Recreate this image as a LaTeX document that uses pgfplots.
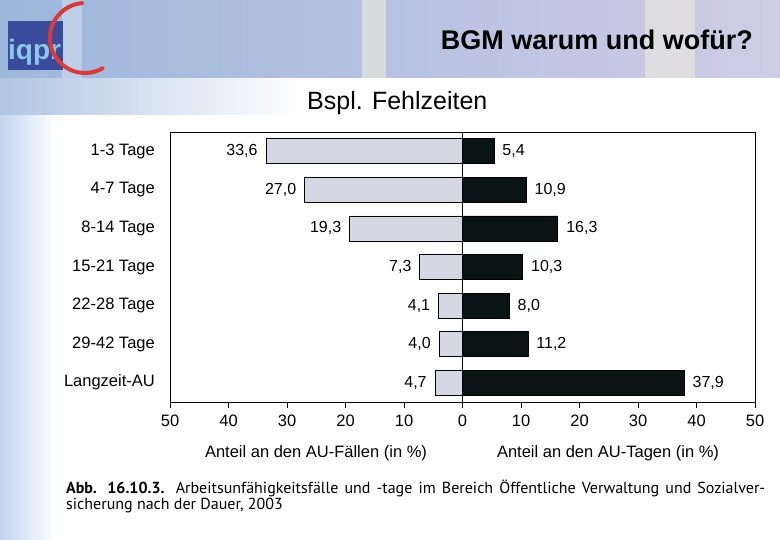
\documentclass[border=0pt]{standalone}
\usepackage{pgfplots}
\pgfplotsset{compat=1.18}
\usepackage{fontspec}
\setmainfont{Liberation Sans}
\newfontfamily\capfont{PT Sans}
\definecolor{leftbar}{HTML}{D6D6E4}
\definecolor{rightbar}{HTML}{0B1414}
\definecolor{bandL}{HTML}{9DB7DC}
\definecolor{bandM}{HTML}{B9C2E2}
\definecolor{bandR}{HTML}{D0CCE6}
\definecolor{stripblue}{HTML}{C2D4EE}
\definecolor{logoblue}{HTML}{3B4B9B}
\definecolor{logotext}{HTML}{8CC8EC}
\definecolor{logored}{HTML}{D93B3B}
\begin{document}
\begin{tikzpicture}[x=1bp,y=1bp]
% background
\fill[white] (0,0) rectangle (780,540);
\shade[left color=stripblue, right color=white] (0,0) rectangle (56,462);
\shade[left color=bandL!80!white, right color=white] (0,425) rectangle (300,462);
\fill[white] (52,0) rectangle (780,425);
% header band
\shade[left color=bandL, middle color=bandM, right color=bandR] (0,462) rectangle (780,540);
\fill[white, opacity=0.3] (62,462) rectangle (82,540);
\fill[yellow!15!white, opacity=0.45] (362,462) rectangle (386,540);
\fill[yellow!15!white, opacity=0.4] (645,462) rectangle (695,540);
% logo
\fill[logoblue] (8,470) rectangle (63,519);
\node[anchor=base west, inner sep=0pt, text=logotext] at (8,480) {\fontsize{28bp}{30bp}\selectfont\bfseries iqpr};
\draw[logored, line width=4bp, line cap=round] (85,502) ++(95:35) arc[start angle=95, end angle=300, radius=35];
% titles
\node[anchor=base east, inner sep=0pt] at (753,490) {\fontsize{27bp}{30bp}\selectfont\bfseries BGM warum und wofür?};
\node[anchor=base west, inner sep=0pt] at (307,430) {\fontsize{25bp}{28bp}\selectfont Bspl. Fehlzeiten};

\begin{axis}[
  at={(170bp,138bp)}, anchor=south west,
  width=585bp, height=270bp, scale only axis,
  xmin=-50, xmax=50, ymin=0.5, ymax=7.5, y dir=reverse,
  xbar, bar width=25bp, bar shift=0pt,
  xtick={-50,-40,...,50},
  xticklabels={50,40,30,20,10,0,10,20,30,40,50},
  xtick pos=left, xtick align=outside, major tick length=6bp,
  ytick={1,...,7},
  yticklabels={1-3 Tage,4-7 Tage,8-14 Tage,15-21 Tage,22-28 Tage,29-42 Tage,Langzeit-AU},
  ytick style={draw=none},
  yticklabel style={font=\fontsize{16.5bp}{20bp}\selectfont, inner sep=0pt, anchor=east, xshift=-9bp},
  xticklabel style={font=\fontsize{16.5bp}{20bp}\selectfont, yshift=-3bp},
  axis line style={black, line width=0.8bp},
  xtick style={black, line width=0.8bp},
  clip=false,
]
\addplot[fill=leftbar, draw=black, line width=0.8bp,
  nodes near coords, point meta=explicit symbolic,
  every node near coord/.append style={anchor=east, inner sep=0pt, xshift=-8bp, text=black, font=\fontsize{16bp}{19bp}\selectfont}]
  table[x=x, y=y, meta=lab] {
x y lab
-33.6 1 33,6
-27.0 2 27,0
-19.3 3 19,3
-7.3 4 7,3
-4.1 5 4,1
-4.0 6 4,0
-4.7 7 4,7
};
\addplot[fill=rightbar, draw=black, line width=0.8bp,
  nodes near coords, point meta=explicit symbolic,
  every node near coord/.append style={anchor=west, inner sep=0pt, xshift=8bp, text=black, font=\fontsize{16bp}{19bp}\selectfont}]
  table[x=x, y=y, meta=lab] {
x y lab
5.4 1 5,4
10.9 2 10,9
16.3 3 16,3
10.3 4 10,3
8.0 5 8,0
11.2 6 11,2
37.9 7 37,9
};
\draw[black, line width=0.8bp] (axis cs:0,0.5) -- (axis cs:0,7.5);
\end{axis}
% axis titles
\node[inner sep=0pt] at (316,87) {\fontsize{16.5bp}{19bp}\selectfont Anteil an den AU-Fällen (in \%)};
\node[inner sep=0pt] at (608,87) {\fontsize{16.5bp}{19bp}\selectfont Anteil an den AU-Tagen (in \%)};
% caption
\node[anchor=north west, inner sep=0pt, text width=699bp, align=justify] at (66,60)
  {\capfont\fontsize{16bp}{19bp}\selectfont \textbf{Abb. 16.10.3.} Arbeitsunfähigkeitsfälle und -tage im Bereich Öffentliche Verwaltung und Sozialver-\linebreak sicherung nach der Dauer, 2003};
\end{tikzpicture}
\end{document}
